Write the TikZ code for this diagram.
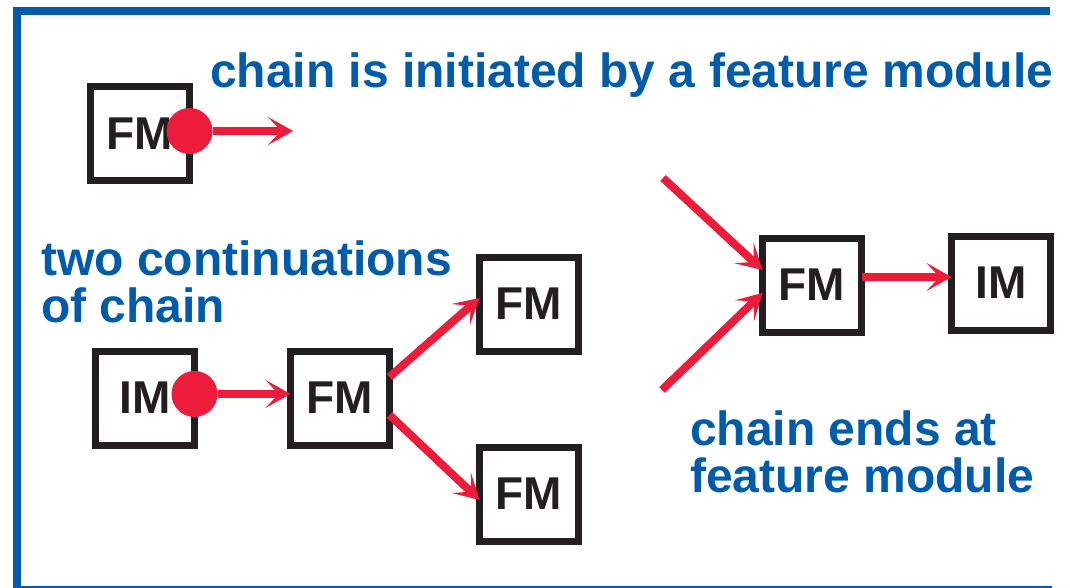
\documentclass[tikz,border=0pt]{standalone}
\usepackage{fontspec}
\setmainfont{Liberation Sans}
\usepackage{tikz}
\usetikzlibrary{arrows.meta,positioning}
\definecolor{chainblue}{RGB}{0,91,170}
\definecolor{chainred}{RGB}{237,28,58}
\definecolor{boxblack}{RGB}{35,31,32}

\begin{document}
\begin{tikzpicture}[x=1pt, y=-1pt,
  module/.style={rectangle, draw=boxblack, line width=7pt, minimum width=99pt, minimum height=94pt,
    inner sep=0pt, outer sep=0pt, text=boxblack, font=\fontsize{46}{46}\selectfont\bfseries},
  chaindot/.style={circle, fill=chainred, minimum size=46pt, inner sep=0pt},
  link/.style={chainred, line width=8pt, -{Stealth[length=25pt, width=28pt, inset=13pt]}},
  note/.style={anchor=base west, inner sep=0pt, align=left, text=chainblue,
    font=\fontsize{48}{47}\selectfont\bfseries}]
   \useasboundingbox (0,0) rectangle (1070,588);
   % frame
   \draw[chainblue, line width=8pt] (1050,11) -- (17,11) -- (17,590) -- (1052,590);

   \node[module] (fmtop) at (140,134) {FM};
   \node[chaindot] (dottop) at ([yshift=3pt]fmtop.east) {};
   \coordinate (endtop) at (293,131);

   \node[module] (imleft) at (145,398) {IM};
   \node[chaindot] (dotleft) at ([yshift=4pt]imleft.east) {};
   \node[module] (fmmid) at (340,398) {FM};
   \node[module] (fmup) at (529,304) {FM};
   \node[module] (fmdown) at (529,494) {FM};

   \node[module] (fmend) at (812,285) {FM};
   \node[module] (imend) at (1001,283) {IM};
   \coordinate (inup) at (663,178);
   \coordinate (indown) at (662,390);

   % two-line notes: base is the last line
   \node[note] (title) at (210,88) {chain is initiated by a feature module};
   \node[note] (twocont) at (41,322) {two continuations\\of chain};
   \node[note] (endnote) at (690,492) {chain ends at\\feature module};

  \path[link]
    (dottop) edge (endtop)
    (dotleft) edge (dotleft -| fmmid.west)
    ([yshift=21pt]fmmid.east) edge ([yshift=6pt]fmup.west)
    ([yshift=-17pt]fmmid.east) edge ([yshift=-6pt]fmdown.west)
    (inup) edge ([yshift=15pt]fmend.west)
    (indown) edge ([yshift=-8pt]fmend.west)
    ([yshift=8pt]fmend.east) edge ([yshift=6pt]imend.west);
\end{tikzpicture}
\end{document}
